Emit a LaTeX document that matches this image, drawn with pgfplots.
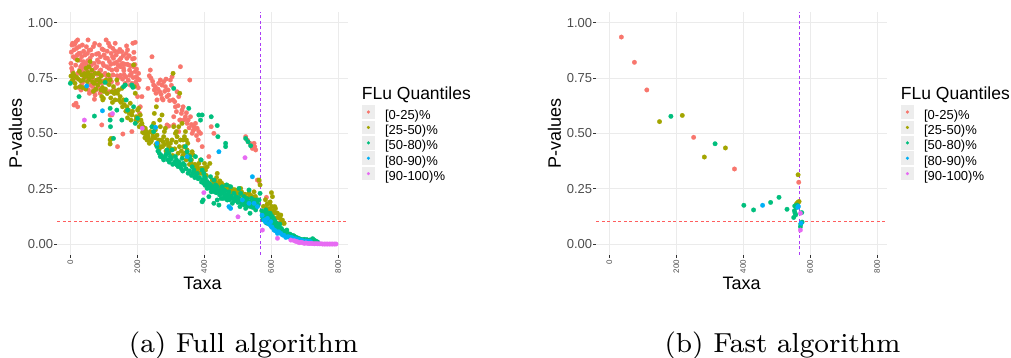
\documentclass[border=0pt]{standalone}
\usepackage{pgfplots}
\usepackage{pgfplotstable}
\pgfplotsset{compat=1.18}
\usepackage{fontspec}
\setmainfont{Liberation Sans}
\newfontfamily\capfont{lmroman8-regular}[Extension=.otf]

\definecolor{q1}{HTML}{F8766D}
\definecolor{q2}{HTML}{A3A500}
\definecolor{q3}{HTML}{00BF7D}
\definecolor{q4}{HTML}{00B0F6}
\definecolor{q5}{HTML}{E76BF3}
\definecolor{gridc}{HTML}{EBEBEB}
\definecolor{tickc}{HTML}{333333}
\definecolor{labc}{HTML}{4D4D4D}
\definecolor{keybg}{HTML}{EDEDED}
\definecolor{cutred}{rgb}{1,0.37,0.37}
\definecolor{cutviolet}{rgb}{0.67,0.24,0.96}

% ---------- Full algorithm ----------
\pgfplotstableread{
x y
2 0.816
3 0.867
4 0.794
5 0.899
6 0.781
7 0.907
9 0.846
10 0.744
11 0.877
11 0.628
13 0.902
14 0.839
15 0.757
16 0.808
17 0.914
17 0.636
19 0.884
20 0.853
22 0.922
22 0.620
23 0.772
24 0.831
25 0.861
26 0.707
27 0.892
28 0.787
29 0.831
30 0.862
31 0.801
32 0.696
33 0.788
34 0.846
35 0.809
35 0.726
36 0.899
37 0.779
38 0.735
39 0.824
40 0.871
41 0.756
42 0.802
44 0.854
45 0.775
46 0.707
47 0.816
48 0.891
49 0.786
50 0.752
51 0.861
52 0.828
53 0.922
54 0.697
55 0.741
56 0.875
57 0.801
57 0.681
58 0.766
59 0.839
60 0.718
61 0.877
62 0.808
64 0.756
65 0.853
66 0.689
67 0.711
68 0.779
69 0.892
70 0.740
71 0.816
72 0.654
73 0.906
74 0.673
75 0.795
76 0.694
77 0.726
78 0.858
79 0.801
80 0.767
81 0.831
83 0.708
84 0.861
85 0.822
86 0.745
87 0.899
88 0.781
89 0.681
90 0.846
91 0.786
92 0.700
94 0.726
94 0.538
95 0.881
96 0.763
97 0.816
98 0.736
99 0.877
100 0.806
101 0.854
103 0.690
104 0.771
105 0.840
107 0.922
108 0.761
109 0.801
110 0.871
111 0.839
112 0.726
114 0.907
115 0.794
116 0.688
117 0.824
118 0.893
119 0.749
119 0.583
121 0.812
122 0.861
123 0.733
124 0.786
124 0.583
126 0.846
127 0.884
128 0.764
129 0.839
130 0.698
131 0.816
133 0.872
134 0.907
136 0.790
137 0.854
138 0.821
139 0.786
140 0.760
141 0.726
141 0.440
143 0.807
144 0.869
146 0.754
147 0.831
148 0.879
149 0.801
150 0.762
151 0.839
153 0.812
154 0.869
156 0.745
157 0.816
157 0.497
158 0.851
159 0.794
160 0.783
161 0.764
163 0.812
164 0.726
166 0.755
167 0.861
168 0.895
169 0.839
170 0.812
171 0.877
173 0.740
174 0.809
176 0.850
177 0.786
178 0.762
179 0.718
180 0.805
181 0.764
183 0.773
184 0.726
184 0.508
186 0.836
187 0.907
188 0.752
189 0.801
190 0.866
191 0.839
193 0.811
194 0.779
194 0.911
196 0.732
197 0.756
198 0.790
199 0.718
200 0.748
201 0.666
203 0.706
204 0.771
206 0.742
207 0.590
209 0.620
214 0.666
232 0.703
236 0.760
239 0.786
241 0.749
244 0.846
246 0.735
249 0.718
251 0.696
254 0.711
256 0.681
259 0.651
262 0.700
264 0.726
267 0.688
269 0.741
271 0.676
274 0.718
274 0.658
277 0.651
279 0.733
282 0.690
284 0.711
286 0.745
289 0.666
289 0.538
292 0.696
294 0.673
294 0.533
297 0.648
299 0.741
302 0.717
304 0.756
307 0.651
309 0.575
309 0.538
312 0.643
314 0.620
317 0.598
319 0.688
322 0.625
324 0.666
324 0.508
327 0.560
329 0.801
329 0.560
332 0.590
334 0.605
337 0.620
340 0.561
344 0.575
347 0.593
349 0.545
352 0.560
355 0.525
357 0.741
359 0.575
362 0.540
364 0.500
367 0.512
369 0.530
372 0.520
374 0.545
377 0.490
379 0.523
382 0.470
384 0.508
389 0.500
394 0.440
414 0.395
421 0.530
429 0.500
524 0.485
529 0.470
537 0.455
544 0.432
549 0.455
551 0.440
554 0.425
559 0.289
564 0.282
586 0.211
}\fullA

\pgfplotstableread{
x y
2 0.759
4 0.735
7 0.741
9 0.771
12 0.760
14 0.726
16 0.707
19 0.753
21 0.831
24 0.745
27 0.780
29 0.711
31 0.737
34 0.764
37 0.707
39 0.741
41 0.533
42 0.770
44 0.756
46 0.700
47 0.794
49 0.760
51 0.733
53 0.775
55 0.801
57 0.746
59 0.824
62 0.763
64 0.786
66 0.733
67 0.756
69 0.690
71 0.726
74 0.771
76 0.700
79 0.741
82 0.718
84 0.771
86 0.745
89 0.733
91 0.696
92 0.760
94 0.666
96 0.707
97 0.651
99 0.658
100 0.690
102 0.733
105 0.700
107 0.741
110 0.680
114 0.764
116 0.720
119 0.741
119 0.470
119 0.452
121 0.660
122 0.477
124 0.688
126 0.640
129 0.711
131 0.680
134 0.651
136 0.690
139 0.741
141 0.681
144 0.696
146 0.650
149 0.666
151 0.640
154 0.703
156 0.620
159 0.651
161 0.630
164 0.718
166 0.600
169 0.620
171 0.570
174 0.605
176 0.590
179 0.636
181 0.560
184 0.583
186 0.600
189 0.809
191 0.711
194 0.681
196 0.560
197 0.575
199 0.553
201 0.605
204 0.613
206 0.530
209 0.583
211 0.560
212 0.540
214 0.545
216 0.505
217 0.530
219 0.515
221 0.500
223 0.480
224 0.523
226 0.510
227 0.485
229 0.470
231 0.500
232 0.490
234 0.477
236 0.455
239 0.508
241 0.462
243 0.470
244 0.530
246 0.500
247 0.485
249 0.545
251 0.590
253 0.480
254 0.515
256 0.450
257 0.620
259 0.492
262 0.455
264 0.470
266 0.430
267 0.560
269 0.530
271 0.440
272 0.470
274 0.583
276 0.440
277 0.462
279 0.485
281 0.508
282 0.450
284 0.523
286 0.420
289 0.470
291 0.455
294 0.440
296 0.420
299 0.455
302 0.430
304 0.470
306 0.400
307 0.771
309 0.530
312 0.430
314 0.500
316 0.460
317 0.508
319 0.485
322 0.410
324 0.530
326 0.440
327 0.681
329 0.470
332 0.420
334 0.545
336 0.400
337 0.470
339 0.440
341 0.485
342 0.410
344 0.508
346 0.380
347 0.470
349 0.425
351 0.455
352 0.390
354 0.395
356 0.360
357 0.402
359 0.380
361 0.364
362 0.380
364 0.417
366 0.350
367 0.402
369 0.349
372 0.360
374 0.334
376 0.330
379 0.349
382 0.340
384 0.364
386 0.320
389 0.380
391 0.342
394 0.319
396 0.330
399 0.342
401 0.364
404 0.334
406 0.310
409 0.349
417 0.364
424 0.289
429 0.274
434 0.282
437 0.300
439 0.319
442 0.270
447 0.285
449 0.259
452 0.275
454 0.259
459 0.259
462 0.265
466 0.248
469 0.251
472 0.262
476 0.240
479 0.229
482 0.250
486 0.232
489 0.244
492 0.245
496 0.225
499 0.236
502 0.240
506 0.228
509 0.251
512 0.235
514 0.221
518 0.215
522 0.225
524 0.199
528 0.210
534 0.229
538 0.220
544 0.214
548 0.205
549 0.236
553 0.215
558 0.200
564 0.289
567 0.267
577 0.170
583 0.200
586 0.161
588 0.180
592 0.160
594 0.184
597 0.190
599 0.154
601 0.232
602 0.170
604 0.214
606 0.150
609 0.139
611 0.169
613 0.160
614 0.116
617 0.140
619 0.139
622 0.120
624 0.127
627 0.115
629 0.131
632 0.100
634 0.108
636 0.095
639 0.093
}\fullB

\pgfplotstableread{
x y
0 0.726
26 0.666
72 0.578
104 0.730
119 0.613
119 0.560
120 0.530
129 0.477
139 0.605
154 0.560
159 0.711
164 0.718
167 0.651
171 0.605
184 0.718
187 0.708
189 0.620
194 0.545
201 0.568
244 0.530
249 0.508
259 0.440
262 0.420
266 0.410
269 0.395
272 0.400
276 0.390
279 0.380
284 0.395
286 0.405
289 0.425
292 0.380
294 0.410
296 0.370
299 0.395
302 0.385
304 0.425
306 0.360
309 0.703
311 0.364
312 0.370
314 0.395
317 0.380
319 0.357
322 0.350
324 0.372
326 0.360
329 0.349
332 0.340
334 0.387
336 0.330
337 0.364
341 0.357
344 0.440
346 0.340
349 0.417
352 0.320
354 0.613
356 0.330
357 0.395
359 0.380
362 0.310
364 0.349
366 0.320
369 0.334
372 0.300
374 0.395
376 0.310
379 0.319
382 0.295
384 0.583
386 0.300
389 0.560
391 0.380
392 0.280
394 0.334
394 0.583
394 0.191
396 0.290
397 0.199
399 0.319
399 0.274
401 0.304
403 0.265
404 0.297
406 0.280
409 0.282
409 0.251
411 0.262
414 0.274
414 0.214
416 0.255
418 0.270
419 0.304
421 0.575
421 0.236
423 0.248
424 0.259
426 0.240
429 0.289
429 0.184
431 0.236
433 0.250
434 0.267
436 0.232
439 0.259
439 0.535
439 0.199
441 0.485
442 0.240
444 0.236
444 0.176
446 0.222
448 0.245
449 0.229
451 0.206
453 0.228
454 0.259
456 0.235
457 0.206
459 0.244
461 0.218
463 0.240
464 0.221
464 0.455
464 0.440
466 0.205
467 0.267
469 0.199
471 0.225
473 0.212
474 0.236
476 0.200
477 0.214
479 0.259
481 0.215
484 0.184
486 0.205
489 0.229
491 0.196
494 0.214
496 0.208
499 0.199
501 0.188
503 0.210
504 0.251
506 0.195
507 0.169
509 0.229
511 0.185
514 0.191
516 0.200
518 0.178
519 0.214
521 0.190
524 0.161
524 0.477
526 0.180
527 0.199
528 0.205
531 0.176
531 0.462
533 0.172
534 0.244
536 0.190
537 0.139
539 0.169
539 0.444
541 0.206
543 0.175
544 0.184
546 0.165
549 0.199
551 0.180
553 0.170
554 0.154
556 0.185
557 0.199
559 0.184
561 0.175
564 0.199
567 0.229
572 0.150
574 0.123
576 0.110
579 0.139
582 0.130
584 0.154
586 0.095
587 0.108
589 0.116
591 0.140
593 0.105
594 0.127
596 0.120
597 0.139
599 0.085
601 0.108
603 0.125
604 0.093
606 0.090
607 0.116
609 0.101
611 0.105
613 0.070
614 0.078
616 0.095
617 0.063
619 0.082
621 0.086
623 0.065
624 0.078
626 0.090
629 0.063
631 0.070
634 0.056
636 0.060
639 0.048
641 0.055
643 0.050
644 0.041
647 0.063
649 0.048
651 0.040
654 0.033
656 0.045
659 0.041
661 0.035
664 0.030
666 0.038
669 0.036
671 0.028
674 0.026
676 0.030
679 0.021
681 0.025
684 0.024
686 0.022
689 0.018
691 0.020
694 0.015
696 0.019
699 0.021
701 0.016
704 0.015
706 0.020
709 0.018
711 0.014
714 0.011
716 0.018
719 0.015
721 0.013
724 0.024
726 0.016
729 0.018
731 0.012
734 0.012
736 0.010
739 0.009
}\fullC

\pgfplotstableread{
x y
49 0.714
96 0.602
255 0.527
259 0.455
349 0.395
444 0.417
474 0.169
479 0.161
514 0.199
534 0.184
544 0.304
549 0.184
559 0.169
573 0.130
579 0.108
583 0.100
589 0.116
593 0.090
599 0.101
601 0.078
603 0.075
609 0.063
613 0.060
619 0.048
623 0.055
629 0.048
634 0.041
638 0.040
644 0.030
649 0.033
653 0.032
659 0.030
663 0.028
669 0.021
673 0.024
679 0.018
683 0.020
689 0.015
693 0.016
699 0.011
703 0.014
709 0.012
713 0.012
718 0.010
}\fullD

\pgfplotstableread{
x y
42 0.560
126 0.589
215 0.523
399 0.232
501 0.123
522 0.390
574 0.063
619 0.026
659 0.018
669 0.015
674 0.012
679 0.010
684 0.006
689 0.008
694 0.006
699 0.003
704 0.005
709 0.003
714 0.002
719 0.003
724 0.002
729 0.001
734 0.002
739 0.001
744 0.001
749 0.001
754 0.000
759 0.000
764 0.000
769 0.000
774 0.000
779 0.000
784 0.000
789 0.000
794 0.000
}\fullE

% ---------- Fast algorithm ----------
\pgfplotstableread{
x y
36 0.935
75 0.821
112 0.696
252 0.482
374 0.339
566 0.279
}\fastA

\pgfplotstableread{
x y
150 0.553
218 0.581
284 0.393
347 0.434
564 0.313
559 0.180
561 0.184
563 0.187
565 0.190
567 0.192
}\fastB

\pgfplotstableread{
x y
184 0.577
316 0.453
402 0.175
431 0.154
482 0.188
507 0.211
531 0.157
551 0.120
553 0.150
555 0.140
557 0.132
554 0.172
558 0.165
561 0.176
575 0.142
576 0.099
572 0.090
571 0.078
}\fastC

\pgfplotstableread{
x y
458 0.175
563 0.166
565 0.170
573 0.094
}\fastD

\pgfplotstableread{
x y
571 0.063
571 0.139
}\fastE

% thresholds drawn on both panels
\pgfplotstableread{
x y
-39 0.1
829 0.1
}\pcut
\pgfplotstableread{
x y
568 -0.049
568 1.049
}\taxcut

\pgfplotsset{
  panel/.style={
    anchor=south west, scale only axis,
    width=290.8pt, height=243.5pt,
    xmin=-39.5, xmax=829.5, ymin=-0.05, ymax=1.05,
    xtick={0,200,400,600,800}, xticklabels={0,200,400,600,800},
    ytick={0,0.25,0.5,0.75,1}, yticklabels={0.00,0.25,0.50,0.75,1.00},
    grid=major, major grid style={draw=gridc, line width=0.9pt},
    axis line style={draw=none},
    tick pos=left, tick align=outside, major tick length=3pt,
    tick style={draw=tickc, line width=0.8pt},
    xticklabel shift=1.5pt, yticklabel shift=0.8pt,
    x tick label style={rotate=90, anchor=east, inner sep=0pt,
      font=\fontsize{8}{9}\selectfont, text=labc},
    y tick label style={anchor=east, inner sep=0pt,
      font=\fontsize{13}{15}\selectfont, text=labc},
    xlabel={Taxa}, ylabel={P-values},
    xlabel style={at={(axis description cs:0.5,-0.1433)}, anchor=base,
      font=\fontsize{18}{20}\selectfont, inner sep=0pt},
    ylabel style={at={(axis description cs:-0.143,0.5)}, anchor=center,
      font=\fontsize{18}{20}\selectfont, inner sep=0pt},
    legend style={at={(axis description cs:1.0475,0.601)}, anchor=north west,
      draw=none, fill=none, inner sep=0pt, outer sep=0pt,
      row sep=0pt, column sep=10pt,
      font=\fontsize{13}{15}\selectfont,
      nodes={inner sep=0pt, text height=10.4pt, text depth=5pt}},
    legend cell align=left,
    legend image code/.code={
      \fill[overlay, fill=keybg, draw=none] (0pt,-2.4pt) rectangle (13.4pt,11.2pt);
      \path[draw=none, fill=none] (0pt,4.4pt) -- (13.4pt,4.4pt);
      \draw[mark size=1.5pt] plot coordinates {(6.7pt,4.4pt)};
    },
  },
  pts/.style={only marks, color=#1, mark=*, mark size=2.3pt,
    mark options={solid, draw=#1, fill=#1, line width=0.2pt}},
  cut/.style={forget plot, mark=none, solid, line width=1pt,
    color=#1, draw=#1, dash pattern=on 3pt off 2.5pt},
}

\begin{document}
\begin{tikzpicture}
\useasboundingbox (0pt,0pt) rectangle (1011pt,358pt);

\begin{axis}[panel, at={(57.1pt,102.9pt)}]
  \addplot[pts=q1] table {\fullA};
  \addlegendentry{[0-25)\%}
  \addplot[pts=q2] table {\fullB};
  \addlegendentry{[25-50)\%}
  \addplot[pts=q3] table {\fullC};
  \addlegendentry{[50-80)\%}
  \addplot[pts=q4] table {\fullD};
  \addlegendentry{[80-90)\%}
  \addplot[pts=q5] table {\fullE};
  \addlegendentry{[90-100)\%}
  \addplot[cut=cutred] table {\pcut};
  \addplot[cut=cutviolet] table {\taxcut};
\end{axis}
\node[anchor=base west, font=\fontsize{17.5}{20}\selectfont, inner sep=0pt]
  at (361.7pt,258.7pt) {FLu Quantiles};

\begin{axis}[panel, at={(596.1pt,102.9pt)}]
  \addplot[pts=q1] table {\fastA};
  \addlegendentry{[0-25)\%}
  \addplot[pts=q2] table {\fastB};
  \addlegendentry{[25-50)\%}
  \addplot[pts=q3] table {\fastC};
  \addlegendentry{[50-80)\%}
  \addplot[pts=q4] table {\fastD};
  \addlegendentry{[80-90)\%}
  \addplot[pts=q5] table {\fastE};
  \addlegendentry{[90-100)\%}
  \addplot[cut=cutred] table {\pcut};
  \addplot[cut=cutviolet] table {\taxcut};
\end{axis}
\node[anchor=base west, font=\fontsize{17.5}{20}\selectfont, inner sep=0pt]
  at (900.7pt,258.7pt) {FLu Quantiles};

\node[anchor=base, inner sep=0pt, font=\capfont\fontsize{27.5}{30}\selectfont]
  at (243.5pt,5pt) {(a) Full algorithm};
\node[anchor=base, inner sep=0pt, font=\capfont\fontsize{27.5}{30}\selectfont]
  at (782.5pt,5pt) {(b) Fast algorithm};
\end{tikzpicture}
\end{document}
